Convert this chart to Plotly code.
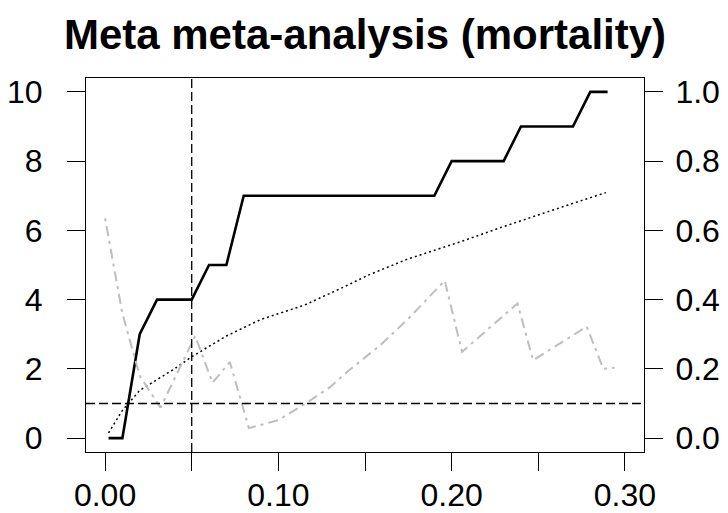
import plotly.graph_objects as go

# ---- data ----
obs_x = [0.002, 0.01, 0.02, 0.03, 0.05, 0.06, 0.07, 0.08, 0.19, 0.20, 0.23, 0.24, 0.27, 0.28, 0.29]
obs_count = [0, 0, 3, 4, 4, 5, 5, 7, 7, 8, 8, 9, 9, 10, 10]

exp_x = [0.002, 0.01, 0.02, 0.03, 0.04, 0.05, 0.07, 0.09, 0.115, 0.138, 0.152, 0.174, 0.205, 0.23, 0.255, 0.27, 0.289]
exp_count = [0.15, 0.8, 1.38, 1.7, 2.0, 2.35, 2.95, 3.43, 3.84, 4.37, 4.71, 5.16, 5.67, 6.11, 6.54, 6.78, 7.09]

pval_x = [0.0, 0.01, 0.02, 0.032, 0.052, 0.062, 0.072, 0.083, 0.10, 0.116, 0.13, 0.141,
          0.159, 0.176, 0.196, 0.206, 0.238, 0.247, 0.278, 0.2875, 0.294]
pval = [0.635, 0.36, 0.18, 0.088, 0.295, 0.16, 0.22, 0.029, 0.052, 0.101, 0.148, 0.197,
        0.269, 0.35, 0.455, 0.249, 0.389, 0.225, 0.322, 0.20, 0.203]

alpha_level = 0.05
ref_count = 1

x_ticks = [0.00, 0.05, 0.10, 0.15, 0.20, 0.25, 0.30]
x_ticktext = ["0.00", "", "0.10", "", "0.20", "", "0.30"]
y_ticks = [0, 2, 4, 6, 8, 10]
y2_ticks = [0.0, 0.2, 0.4, 0.6, 0.8, 1.0]
y2_ticktext = ["0.0", "0.2", "0.4", "0.6", "0.8", "1.0"]
title_text = "Meta meta-analysis (mortality)"

FONT = "Liberation Sans, Arial, sans-serif"
TICKFONT = dict(family=FONT, size=32, color="black")

fig = go.Figure()

fig.add_trace(go.Scatter(x=pval_x, y=pval, mode="lines", yaxis="y2",
                         line=dict(color="#BEBEBE", width=2, dash="3px,5px,10px,5px"),
                         showlegend=False, hoverinfo="skip"))
fig.add_trace(go.Scatter(x=exp_x, y=exp_count, mode="lines",
                         line=dict(color="black", width=1.5, dash="2px,3px"),
                         showlegend=False, hoverinfo="skip"))
fig.add_trace(go.Scatter(x=obs_x, y=obs_count, mode="lines",
                         line=dict(color="black", width=2.6),
                         showlegend=False, hoverinfo="skip"))

fig.add_shape(type="line", xref="x", yref="paper", x0=alpha_level, x1=alpha_level, y0=0, y1=1,
              line=dict(color="black", width=1.3, dash="9px,4px"))
fig.add_shape(type="line", xref="paper", yref="y", x0=0, x1=1, y0=ref_count, y1=ref_count,
              line=dict(color="black", width=1.3, dash="9px,4px"))

fig.update_layout(
    width=728, height=513,
    margin=dict(l=86, r=84, t=78, b=61, pad=0, autoexpand=False),
    paper_bgcolor="white", plot_bgcolor="white",
    title=dict(text="<b>" + title_text + "</b>", x=0.5, xref="paper", xanchor="center",
               y=1 - 34 / 513, yanchor="middle", automargin=False,
               font=dict(family=FONT, size=42, color="black")),
    xaxis=dict(range=[-0.011, 0.311], tickvals=x_ticks, ticktext=x_ticktext,
               ticks="outside", ticklen=18, tickwidth=1, tickcolor="black",
               showline=True, linecolor="black", linewidth=1, mirror=True, automargin=False,
               showgrid=False, zeroline=False, tickfont=TICKFONT, ticklabelstandoff=-3),
    yaxis=dict(range=[-0.4, 10.4], tickvals=y_ticks,
               ticks="outside", ticklen=18, tickwidth=1, tickcolor="black",
               showline=True, linecolor="black", linewidth=1, mirror=True, automargin=False,
               showgrid=False, zeroline=False, tickfont=TICKFONT, ticklabelstandoff=18),
    yaxis2=dict(range=[-0.04, 1.04], tickvals=y2_ticks, ticktext=y2_ticktext,
                overlaying="y", side="right", automargin=False,
                ticks="outside", ticklen=18, tickwidth=1, tickcolor="black",
                showline=False, showgrid=False, zeroline=False, tickfont=TICKFONT,
                ticklabelstandoff=6),
)

fig.write_html("out.html")
